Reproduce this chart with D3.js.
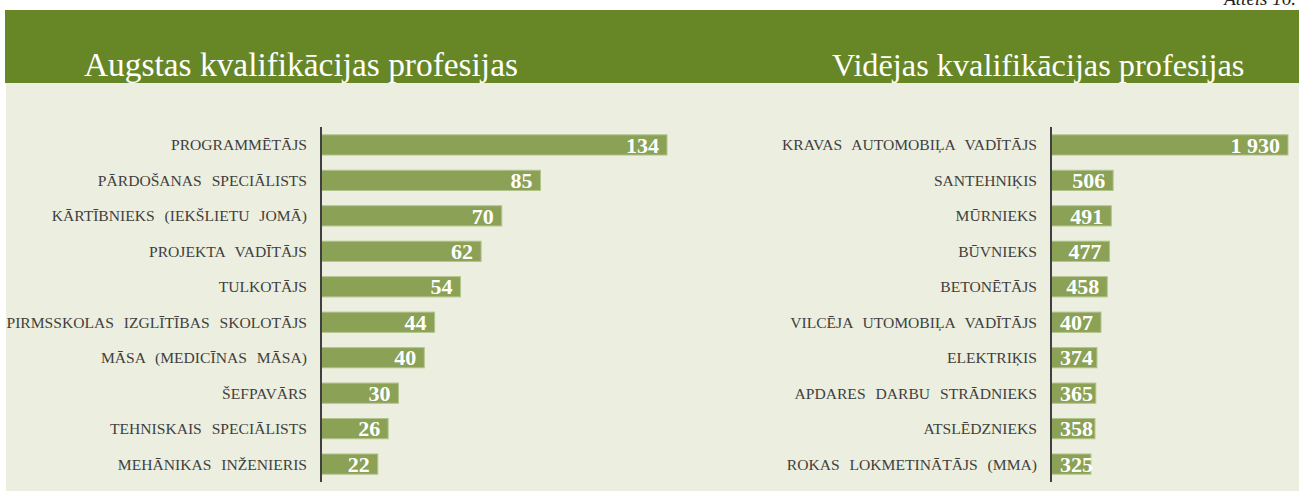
<!DOCTYPE html>
<html>
<head>
<meta charset="utf-8">
<script src="https://cdn.jsdelivr.net/npm/d3@7"></script>
<style>
  body { margin: 0; background: #fff; }
  svg { display: block; }
  .cat text { font-family: "Liberation Serif", "Times New Roman", serif; font-size: 15.6px; fill: #404040; word-spacing: 6px; }
  .val { font-family: "Liberation Serif", "Times New Roman", serif; font-size: 22px; font-weight: bold; fill: #fff; }
  .title { font-family: "Liberation Serif", "Times New Roman", serif; fill: #fff; }
</style>
</head>
<body>
<svg></svg>
<script>
var width = 1299,
  height = 493;

var highTitle = "Augstas kvalifikācijas profesijas";
var highNames = ["PROGRAMMĒTĀJS", "PĀRDOŠANAS SPECIĀLISTS", "KĀRTĪBNIEKS (IEKŠLIETU JOMĀ)", "PROJEKTA VADĪTĀJS", "TULKOTĀJS",
  "PIRMSSKOLAS IZGLĪTĪBAS SKOLOTĀJS", "MĀSA (MEDICĪNAS MĀSA)", "ŠEFPAVĀRS", "TEHNISKAIS SPECIĀLISTS", "MEHĀNIKAS INŽENIERIS"];
var highValues = [134, 85, 70, 62, 54, 44, 40, 30, 26, 22];

var midTitle = "Vidējas kvalifikācijas profesijas";
var midNames = ["KRAVAS AUTOMOBIĻA VADĪTĀJS", "SANTEHNIĶIS", "MŪRNIEKS", "BŪVNIEKS", "BETONĒTĀJS",
  "VILCĒJA UTOMOBIĻA VADĪTĀJS", "ELEKTRIĶIS", "APDARES DARBU STRĀDNIEKS", "ATSLĒDZNIEKS", "ROKAS LOKMETINĀTĀJS (MMA)"];
var midValues = [1930, 506, 491, 477, 458, 407, 374, 365, 358, 325];

var formatNum = function(v) {
  return d3.format(",")(v).replace(/,/g, " ");
};

var svg = d3.select("svg")
  .attr("width", width)
  .attr("height", height);

// header band and panel background
svg.append("rect")
  .attr("x", 5).attr("y", 10)
  .attr("width", width - 5).attr("height", 73)
  .style("fill", "#678727");

svg.append("rect")
  .attr("x", 6).attr("y", 83)
  .attr("width", width - 6).attr("height", 408)
  .style("fill", "#ECEFDF");

svg.append("text")
  .attr("x", 1296).attr("y", 5)
  .style("text-anchor", "end")
  .style("font-family", "Liberation Serif, serif")
  .style("font-style", "italic")
  .style("font-size", "19px")
  .style("fill", "#222")
  .text("Attēls 16.");

function drawPanel(opts, names, values, title) {
  var g = svg.append("g");

  var x = d3.scaleLinear()
    .domain([0, d3.max(values)])
    .range([opts.x0, opts.x1]);

  var y = d3.scaleBand()
    .domain(names)
    .range([127, 482])
    .paddingInner(0.43)
    .paddingOuter(0.22);

  g.append("text")
    .attr("class", "title")
    .attr("x", opts.titleX)
    .attr("y", 76)
    .style("font-size", opts.titleSize + "px")
    .text(title);

  var rows = names.map(function(n, i) { return { name: n, value: values[i] }; });

  g.selectAll(".bar")
    .data(rows)
    .enter().append("rect")
    .attr("class", "bar")
    .attr("x", x(0))
    .attr("y", function(d) { return y(d.name); })
    .attr("width", function(d) { return x(d.value) - x(0); })
    .attr("height", y.bandwidth())
    .style("fill", "#8AA156")
    .style("stroke", "#B3C38C")
    .style("stroke-width", 1);

  var yAxis = d3.axisLeft(y).tickSize(0).tickPadding(14);

  g.append("g")
    .attr("class", "cat")
    .attr("transform", "translate(" + x(0) + ",0)")
    .call(yAxis)
    .call(function(a) { a.select(".domain").remove(); })
    .selectAll("text")
    .attr("dy", "0.35em");

  g.append("line")
    .attr("x1", x(0)).attr("x2", x(0))
    .attr("y1", 127).attr("y2", 482)
    .style("stroke", "#404040")
    .style("stroke-width", 2);

  g.selectAll(".val")
    .data(rows)
    .enter().append("text")
    .attr("class", "val")
    .attr("y", function(d) { return y(d.name) + y.bandwidth() / 2; })
    .attr("dy", "0.35em")
    .style("text-anchor", "end")
    .text(function(d) { return formatNum(d.value); })
    .attr("x", function(d) {
      var w = this.getComputedTextLength();
      return Math.max(x(d.value) - 8, x(0) + 9 + w);
    });
}

drawPanel({ x0: 321, x1: 667, titleX: 84, titleSize: 33.4 }, highNames, highValues, highTitle);
drawPanel({ x0: 1051, x1: 1288, titleX: 832, titleSize: 32.3 }, midNames, midValues, midTitle);
</script>
</body>
</html>
